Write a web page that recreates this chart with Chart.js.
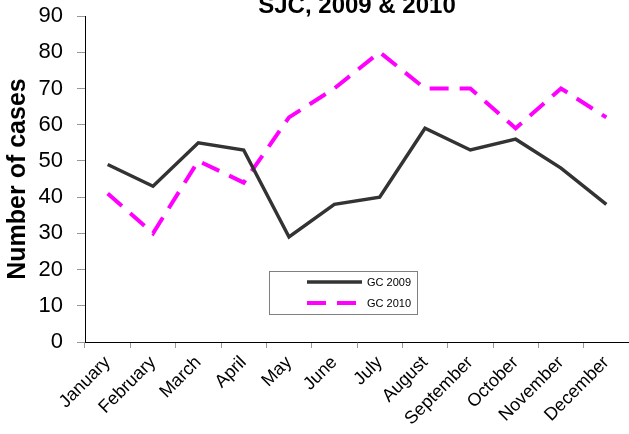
<!DOCTYPE html>
<html>
<head>
<meta charset="utf-8">
<script src="https://cdn.jsdelivr.net/npm/chart.js@4.4.1/dist/chart.umd.min.js"></script>
<style>
  html, body { margin: 0; padding: 0; background: #fff; overflow: hidden; }
  #wrap { position: relative; width: 629px; height: 434px; }
</style>
</head>
<body>
<div id="wrap"><canvas id="graphique" width="629" height="434"></canvas></div>
<script>
const mois = ["January","February","March","April","May","June","July","August","September","October","November","December"];
const gc2009 = [49, 43, 55, 53, 29, 38, 40, 59, 53, 56, 48, 38];
const gc2010 = [41, 30, 50, 44, 62, 70, 80, 70, 70, 59, 70, 62];
const titre = "SJC, 2009 & 2010";
const etiquetteY = "Number of cases";

const POLICE = "'Liberation Sans', Arial, sans-serif";

// titre coupe en haut + legende encadree au milieu du graphique
const decor = {
  id: "decor",
  afterDraw(chart) {
    const ctx = chart.ctx;
    const ca = chart.chartArea;
    ctx.save();
    ctx.fillStyle = "#000";
    ctx.font = "bold 24px " + POLICE;
    ctx.textAlign = "center";
    ctx.textBaseline = "alphabetic";
    ctx.fillText(titre, (ca.left + ca.right) / 2, 13);

    // legende
    const bx = 269, by = 271, bw = 148, bh = 43;
    ctx.strokeStyle = "#808080";
    ctx.lineWidth = 1;
    ctx.strokeRect(bx + 0.5, by + 0.5, bw, bh);
    const ds = chart.data.datasets;
    const lignes = [282, 303];
    ds.forEach((d, i) => {
      ctx.beginPath();
      ctx.strokeStyle = d.borderColor;
      ctx.lineWidth = d.borderWidth;
      ctx.setLineDash(d.borderDash || []);
      ctx.moveTo(307, lignes[i]);
      ctx.lineTo(362, lignes[i]);
      ctx.stroke();
      ctx.setLineDash([]);
      ctx.fillStyle = "#000";
      ctx.font = "11px " + POLICE;
      ctx.textAlign = "left";
      ctx.textBaseline = "middle";
      ctx.fillText(d.label, 367, lignes[i] + 1);
    });
    ctx.restore();
  }
};

new Chart(document.getElementById("graphique"), {
  type: "line",
  data: {
    labels: mois,
    datasets: [
      { label: "GC 2009", data: gc2009, borderColor: "#333333", borderWidth: 3.5, pointRadius: 0, tension: 0, fill: false },
      { label: "GC 2010", data: gc2010, borderColor: "#ff00ff", borderWidth: 4, borderDash: [19, 11], pointRadius: 0, tension: 0, fill: false }
    ]
  },
  options: {
    responsive: false,
    animation: false,
    devicePixelRatio: 1,
    layout: { padding: { top: 16, right: 0, left: 0, bottom: 0 } },
    plugins: {
      legend: { display: false },
      tooltip: { enabled: false },
      title: { display: false }
    },
    scales: {
      x: {
        offset: true,
        grid: { offset: true, drawOnChartArea: false, tickLength: 6, color: "#999999", lineWidth: 1 },
        border: { color: "#000", width: 1 },
        ticks: { color: "#000", font: { size: 18, family: POLICE }, minRotation: 45, maxRotation: 45, padding: 4, autoSkip: false },
        afterFit(scale) { scale.height = 92; }
      },
      y: {
        min: 0,
        max: 90,
        grid: { drawOnChartArea: false, tickLength: 8, color: "#999999", lineWidth: 1 },
        border: { color: "#000", width: 1 },
        ticks: { stepSize: 10, color: "#000", font: { size: 22, family: POLICE }, padding: 14 },
        title: { display: true, text: etiquetteY, color: "#000", font: { size: 25, weight: "bold", family: POLICE }, padding: { top: 3, bottom: 0 } },
        afterFit(scale) {
          scale.width = 85;
          scale.paddingTop = 0;
          scale.paddingBottom = 0;
        }
      }
    }
  },
  plugins: [decor]
});
</script>
</body>
</html>
